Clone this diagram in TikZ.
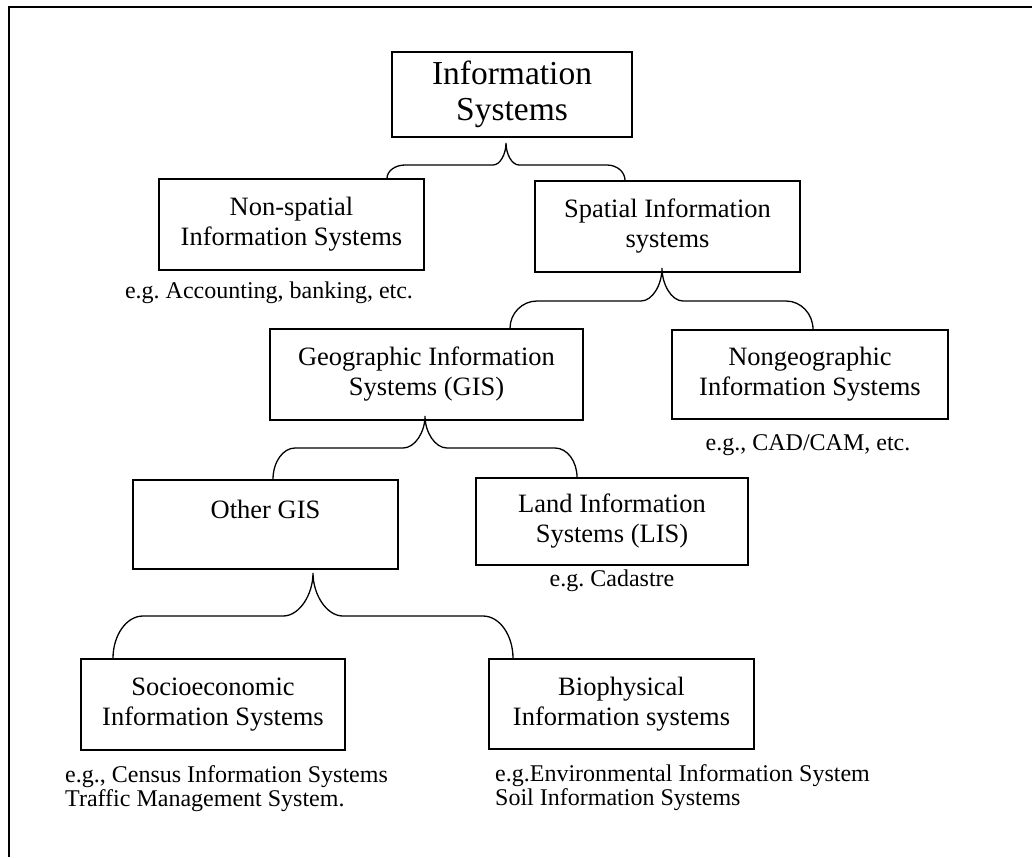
\documentclass[tikz,border=0pt]{standalone}
\usepackage{fontspec}
\setmainfont{Liberation Serif}
\usetikzlibrary{calc}
\frenchspacing

% Curly brace joining a parent (tip) to two children (left and right ends).
% #1 tip, #2 left end, #3 right end, #4 y of the horizontal run,
% #5 width of the end bends, #6 width of the tip bends
\newcommand\bracelink[6]{%
  \draw[link] let \p1=(#1), \p2=(#2), \p3=(#3), \p4=(0,#4) in
    (\x2,\y2) .. controls (\x2,{\y2+0.55*(\y4-\y2)}) and ({\x2+0.45*#5},\y4) .. ({\x2+#5},\y4)
    -- ({\x1-#6},\y4) .. controls ({\x1-0.45*#6},\y4) and (\x1,{\y4+0.5*(\y1-\y4)}) .. (\x1,\y1)
    .. controls (\x1,{\y4+0.5*(\y1-\y4)}) and ({\x1+0.45*#6},\y4) .. ({\x1+#6},\y4)
    -- ({\x3-#5},\y4) .. controls ({\x3-0.45*#5},\y4) and (\x3,{\y3+0.55*(\y4-\y3)}) .. (\x3,\y3);
}

\begin{document}
\begin{tikzpicture}[x=1pt,y=-1pt,
  box/.style={draw, line width=1.4pt, inner sep=0pt, align=center,
    font=\fontsize{26.5}{30}\selectfont},
  note/.style={inner sep=0pt, align=left, font=\fontsize{24}{22}\selectfont},
  link/.style={line width=1.3pt},
  frame/.style={line width=1.8pt}]
\useasboundingbox (0,0) rectangle (1032,857);
\draw[frame] (9,857) -- (9,7) -- (1032,7);

% classification boxes
\node[box, minimum width=240pt, minimum height=85pt,
  font=\fontsize{33.5}{36}\selectfont] (is) at (512,94.5) {Information\\Systems};
\node[box, minimum width=265pt, minimum height=91pt] (ns) at (291.5,224.5) {Non-spatial\\Information Systems};
\node[box, minimum width=265pt, minimum height=91pt] (sp) at (667.5,226.5) {Spatial Information\\systems};
\node[box, minimum width=313pt, minimum height=91pt] (geo) at (426.5,374.5) {Geographic Information\\Systems (GIS)};
\node[box, minimum width=276pt, minimum height=89pt] (ng) at (810,374.5) {Nongeographic\\Information Systems};
\node[box, minimum width=265pt, minimum height=89pt] (og) at (265.5,524.5) {Other GIS\\\mbox{}};
\node[box, minimum width=272pt, minimum height=87pt] (lis) at (612,521.5) {Land Information\\Systems (LIS)};
\node[box, minimum width=264pt, minimum height=91pt] (se) at (213,704.5) {Socioeconomic\\Information Systems};
\node[box, minimum width=265pt, minimum height=90pt] (bp) at (621.5,704) {Biophysical\\Information systems};

% examples (multi-line notes sit on the baseline of their last line)
\node[note, anchor=base] (nsx) at (269,298) {e.g. Accounting, banking, etc.};
\node[note, anchor=base] (ngx) at (808,450) {e.g., CAD/CAM, etc.};
\node[note, anchor=base] (lisx) at (612,586) {e.g. Cadastre};
\node[note, anchor=base west] (sex) at (65,806) {e.g., Census Information Systems\\Traffic Management System.};
\node[note, anchor=base west] (bpx) at (495,805) {e.g.Environmental Information System\\Soil Information Systems};

% brace connectors
\coordinate (t1) at (506,143);
\coordinate (t2) at (662,268);
\coordinate (t3) at (425,416);
\coordinate (t4) at (313,573);
\bracelink{t1}{387,0 |- ns.north}{625,0 |- sp.north}{165}{18}{13}
\bracelink{t2}{510,0 |- geo.north}{813,0 |- ng.north}{301}{27}{21}
\bracelink{t3}{273,0 |- og.north}{577,0 |- lis.north}{448}{22}{22}
\bracelink{t4}{113,0 |- se.north}{513,0 |- bp.north}{616}{30}{30}
\end{tikzpicture}
\end{document}
